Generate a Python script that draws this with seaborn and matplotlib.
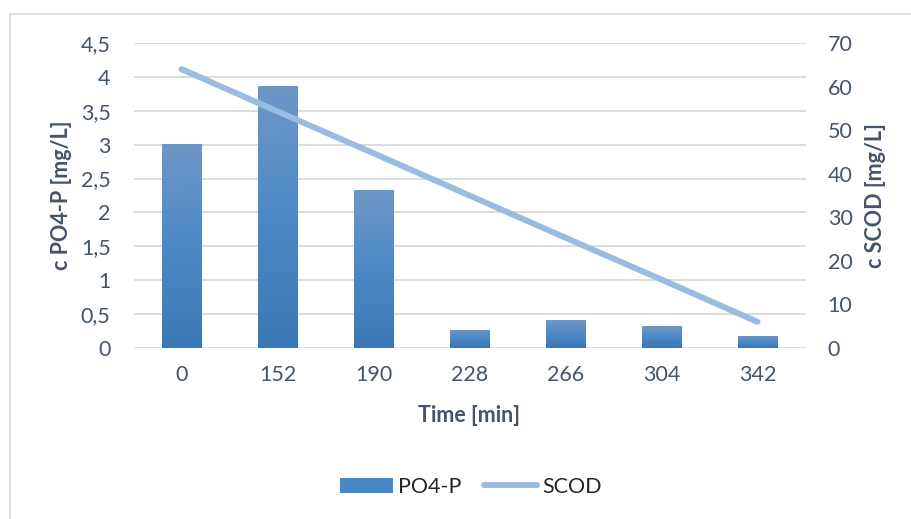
import numpy as np
import pandas as pd
import seaborn as sns
import matplotlib.pyplot as plt
from matplotlib.colors import LinearSegmentedColormap
from matplotlib.patches import Patch, Rectangle
from matplotlib.lines import Line2D

# Data
times = ['0', '152', '190', '228', '266', '304', '342']
po4_p = [3.01, 3.86, 2.33, 0.27, 0.41, 0.32, 0.18]
scod = [64, 54.3, 44.7, 35, 25.3, 15.7, 6]

df = pd.DataFrame({'time': times, 'PO4-P': po4_p, 'SCOD': scod})

sns.set_style('white')
plt.rcParams['font.family'] = ['Lato', 'DejaVu Sans']

text_col = '#44546A'
grid_col = '#D9D9D9'
fs = 15.5

fig = plt.figure(figsize=(9.11, 5.19), dpi=100)
ax = fig.add_axes([133.5 / 911, 1 - 348 / 519, 672 / 911, 305 / 519])

sns.barplot(data=df, x='time', y='PO4-P', color='#4A86C2', width=0.41, ax=ax, zorder=3)

# gradient fill for the bars, top lighter / bottom darker
cmap = LinearSegmentedColormap.from_list('bar', ['#3A78B5', '#4C89C6', '#6E97C6'])
grad = np.linspace(0, 1, 256).reshape(-1, 1)
for p in ax.patches:
    x0, y0 = p.get_x(), p.get_y()
    w, h = p.get_width(), p.get_height()
    im = ax.imshow(grad, cmap=cmap, origin='lower', aspect='auto',
                   extent=[x0, x0 + w, y0, y0 + h], zorder=4)
    im.set_clip_path(p)
    p.set_edgecolor('none')

ax.set_xlim(-0.5, len(times) - 0.5)
ax.set_ylim(0, 4.5)
ax.set_yticks(np.arange(0, 4.51, 0.5))
ax.set_yticklabels([f'{v:g}'.replace('.', ',') for v in np.arange(0, 4.51, 0.5)])
ax.yaxis.grid(True, color=grid_col, lw=1.3, zorder=0)
ax.set_axisbelow(True)
for s in ax.spines.values():
    s.set_visible(False)
ax.tick_params(axis='y', length=0, pad=16.5, labelsize=fs, labelcolor=text_col)
ax.tick_params(axis='x', length=0, pad=12.5, labelsize=fs, labelcolor=text_col)
ax.set_xlabel('Time [min]', fontsize=fs, fontweight='bold', color=text_col, va='center')
ax.xaxis.set_label_coords(0.5, -(415 - 348) / 305)
ax.set_ylabel('c PO4-P [mg/L]', fontsize=fs, fontweight='bold', color=text_col, va='center')
ax.yaxis.set_label_coords((62 - 133.5) / 672, 0.5)

ax2 = ax.twinx()
sns.lineplot(x=np.arange(len(times)), y=scod, color='#9ABCE2', lw=4.3,
             solid_capstyle='round', ax=ax2)
ax2.set_ylim(0, 70)
ax2.set_yticks(range(0, 71, 10))
for s in ax2.spines.values():
    s.set_visible(False)
ax2.tick_params(axis='y', length=0, pad=16, labelsize=fs, labelcolor=text_col)
ax2.set_ylabel('c SCOD [mg/L]', fontsize=fs, fontweight='bold', color=text_col, va='center')
ax2.yaxis.set_label_coords((875 - 133.5) / 672, 0.5)
ax2.set_xlim(-0.5, len(times) - 0.5)

handles = [Patch(facecolor='#4A86C2', edgecolor='none'),
           Line2D([], [], color='#9ABCE2', lw=4.3, solid_capstyle='round')]
fig.legend(handles, ['PO4-P', 'SCOD'], loc='center', bbox_to_anchor=(471 / 911, 1 - 487 / 519),
           ncol=2, frameon=False, fontsize=fs, handlelength=2.45, handleheight=0.75,
           columnspacing=1.05, handletextpad=0.25)

fig.patches.append(Rectangle((10 / 911, -0.1), 1.2, 1.1 - 14 / 519, transform=fig.transFigure,
                             fill=False, edgecolor=grid_col, lw=1.2))

fig.savefig('out.png', dpi=100)
